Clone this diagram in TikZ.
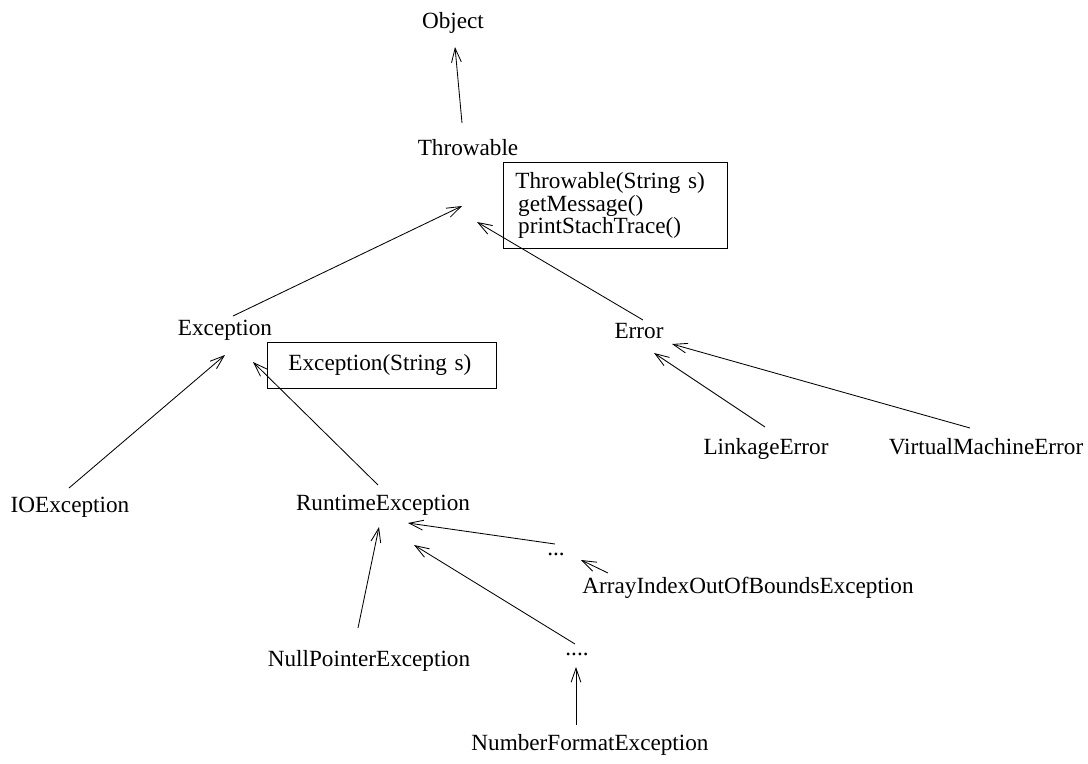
\documentclass[tikz,border=0pt]{standalone}
\usepackage{fontspec}
\setmainfont{Liberation Serif}
\usetikzlibrary{arrows.meta}
\begin{document}
\begin{tikzpicture}[x=0.025cm,y=-0.025cm,
        cls/.style={anchor=base,inner sep=0pt},
        box/.style={draw,line width=0.6pt,anchor=north west,align=left,inner ysep=0pt},
        arr/.style={line width=0.6pt,-{Straight Barb[length=10pt,width=7pt]}},
        font=\fontsize{16.5}{16}\selectfont]
        \useasboundingbox (0,0) rectangle (1088,764);
        %% Classes
        \node[cls] (obj) at (453,28) {Object};
        \node[cls] (thr) at (468,155) {Throwable};
        \node[cls] (exc) at (225,335) {Exception};
        \node[cls] (err) at (639,338) {Error};
        \node[cls] (ioe) at (70,512) {IOException};
        \node[cls] (rte) at (383,510) {RuntimeException};
        \node[cls] (lnk) at (766,454) {LinkageError};
        \node[cls] (vme) at (986,454) {VirtualMachineError};
        \node[cls] (dtsa) at (556,555) {...};
        \node[cls] (aio) at (748,593) {ArrayIndexOutOfBoundsException};
        \node[cls] (npe) at (369,666) {NullPointerException};
        \node[cls] (dtsb) at (577,655) {....};
        \node[cls] (nfe) at (590,750) {NumberFormatException};
        %% Method boxes
        \node[box,minimum width=5.6cm,minimum height=2.15cm,text width=5.0cm,inner xsep=0.3cm] (thrbox) at (503,162)
            {Throwable(String s)\\\hspace*{2pt}getMessage()\\\hspace*{2pt}printStachTrace()};
        \node[box,minimum width=5.725cm,minimum height=1.15cm,text width=4.675cm,inner xsep=0.525cm] (excbox) at (267,342)
            {Exception(String s)};
        %% Arrow ends
        \coordinate (obj-in) at (455,47);   \coordinate (thr-out) at (462,123);
        \coordinate (thr-ina) at (462,206); \coordinate (thr-inb) at (477,222);
        \coordinate (exc-out) at (233,316); \coordinate (err-out) at (643,320);
        \coordinate (exc-ina) at (225,355); \coordinate (exc-inb) at (253,362);
        \coordinate (ioe-out) at (69,488);  \coordinate (rte-out) at (378,485);
        \coordinate (err-ina) at (654,353); \coordinate (err-inb) at (672,344);
        \coordinate (lnk-out) at (765,427); \coordinate (vme-out) at (970,428);
        \coordinate (rte-ina) at (408,523); \coordinate (rte-inb) at (379,527);
        \coordinate (rte-inc) at (414,545);
        \coordinate (dtsa-out) at (555,544); \coordinate (dtsa-in) at (581,560);
        \coordinate (aio-out) at (608,573);  \coordinate (npe-out) at (358,628);
        \coordinate (dtsb-out) at (575,644); \coordinate (dtsb-in) at (576,667);
        \coordinate (nfe-out) at (576,725);
        %% Inheritance
        \draw[arr] (thr-out) -- (obj-in);
        \draw[arr] (exc-out) -- (thr-ina);
        \draw[arr] (err-out) -- (thr-inb);
        \draw[arr] (ioe-out) -- (exc-ina);
        \draw[arr] (rte-out) -- (exc-inb);
        \draw[arr] (lnk-out) -- (err-ina);
        \draw[arr] (vme-out) -- (err-inb);
        \draw[arr] (dtsa-out) -- (rte-ina);
        \draw[arr] (aio-out) -- (dtsa-in);
        \draw[arr] (npe-out) -- (rte-inb);
        \draw[arr] (dtsb-out) -- (rte-inc);
        \draw[arr] (nfe-out) -- (dtsb-in);
    \end{tikzpicture}
\end{document}
